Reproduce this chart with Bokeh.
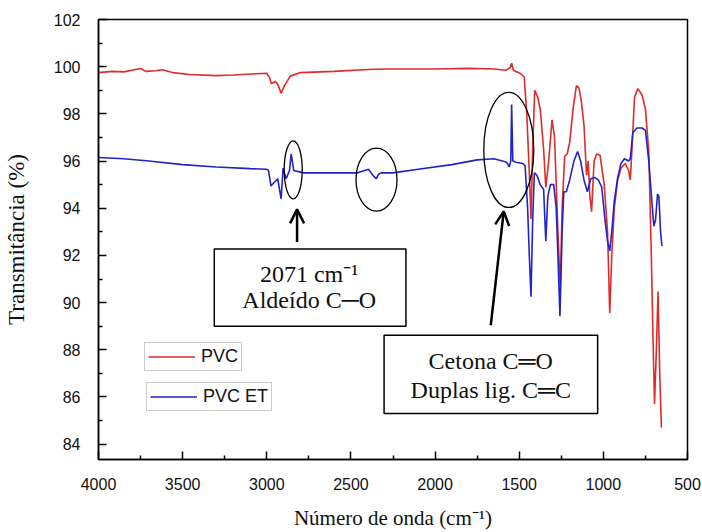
from bokeh.plotting import figure
from bokeh.models import (Range1d, Legend, LegendItem, Label, BoxAnnotation,
                          Arrow, OpenHead, FixedTicker, ColumnDataSource)
from bokeh.embed import file_html
from bokeh.resources import INLINE

# ---- data ----
wn_pvc = [4000, 3920, 3850, 3780, 3750, 3720, 3660, 3620, 3560, 3460, 3300, 3200,
          3060, 3000, 2985, 2972, 2950, 2935, 2915, 2895, 2860, 2800, 2600, 2400,
          2300, 2000, 1800, 1650, 1580, 1555, 1545, 1535, 1490, 1470, 1455, 1440,
          1430, 1420, 1408, 1390, 1375, 1355, 1342, 1325, 1305, 1290, 1270, 1256,
          1245, 1230, 1215, 1200, 1180, 1160, 1145, 1130, 1115, 1100, 1090, 1080,
          1070, 1055, 1040, 1020, 995, 975, 962, 950, 935, 915, 895, 870, 850, 840,
          830, 815, 795, 770, 750, 730, 715, 705, 696, 685, 675, 665, 655]
t_pvc = [99.75, 99.8, 99.78, 99.88, 99.92, 99.8, 99.83, 99.87, 99.75, 99.67, 99.62,
         99.65, 99.7, 99.72, 99.55, 99.28, 99.37, 99.25, 98.88, 99.2, 99.6, 99.75,
         99.8, 99.88, 99.9, 99.9, 99.93, 99.9, 99.85, 99.95, 100.15, 99.85, 99.7,
         99.55, 98.0, 95.5, 93.55, 96.5, 99.0, 98.7, 98.2, 96.5, 94.88, 96.0, 97.75,
         97.0, 93.0, 90.6, 94.0, 96.2, 96.3, 96.8, 98.2, 99.2, 99.1, 98.5, 97.5, 95.4,
         96.0, 94.5, 93.85, 96.0, 96.3, 96.25, 95.0, 93.0, 89.55, 92.0, 94.0, 95.2,
         95.7, 95.9, 95.6, 95.2, 96.5, 98.7, 99.07, 98.8, 98.2, 96.4, 92.0, 88.5,
         85.7, 88.0, 90.47, 87.0, 84.7]

wn_et = [4000, 3850, 3700, 3500, 3300, 3100, 3000, 2990, 2975, 2955, 2935, 2915, 2903,
         2885, 2865, 2855, 2840, 2780, 2600, 2460, 2395, 2380, 2370, 2350, 2335, 2320,
         2250, 2100, 1900, 1750, 1650, 1600, 1575, 1560, 1550, 1545, 1538, 1520, 1480,
         1465, 1450, 1440, 1430, 1420, 1410, 1395, 1375, 1355, 1342, 1330, 1315, 1295,
         1280, 1270, 1258, 1245, 1235, 1220, 1200, 1175, 1153, 1135, 1115, 1095, 1075,
         1050, 1030, 1010, 990, 975, 962, 950, 935, 915, 895, 875, 850, 840, 825, 800,
         770, 750, 730, 712, 700, 690, 678, 670, 660, 652]
t_et = [96.15, 96.1, 96.0, 95.85, 95.75, 95.68, 95.65, 95.6, 94.95, 95.1, 95.25, 94.4,
        95.7, 95.25, 95.6, 96.3, 95.6, 95.5, 95.5, 95.5, 95.65, 95.5, 95.4, 95.25,
        95.45, 95.5, 95.5, 95.65, 95.85, 96.05, 96.1, 96.0, 95.95, 95.75, 96.0, 98.4,
        96.0, 95.95, 95.9, 95.8, 94.0, 92.0, 90.25, 93.5, 95.5, 95.4, 95.0, 94.8, 92.6,
        94.5, 95.0, 95.0, 94.0, 92.0, 89.42, 93.0, 94.7, 94.7, 95.2, 96.0, 96.4, 96.0,
        95.2, 94.7, 95.25, 95.3, 95.2, 94.9, 93.5, 92.6, 92.19, 93.0, 94.3, 95.3, 95.9,
        96.1, 96.0, 96.1, 97.2, 97.4, 97.4, 97.3, 96.0, 94.3, 93.24, 93.5, 94.6, 94.5,
        93.0, 92.4]

x_ticks = [4000, 3500, 3000, 2500, 2000, 1500, 1000, 500]
x_minor = [3750, 3250, 2750, 2250, 1750, 1250, 750]
y_ticks = [84, 86, 88, 90, 92, 94, 96, 98, 100, 102]
y_minor = [85, 87, 89, 91, 93, 95, 97, 99, 101]

series_names = ["PVC", "PVC ET"]
note_a = ["2071 cm\u207b\u00b9", "Aldeído C\u2500O"]
note_b = ["Cetona C\u2550O", "Duplas lig. C\u2550C"]

RED = "#DE2B2B"
BLUE = "#2222C8"
SANS = "Liberation Sans"
SERIF = "Liberation Serif"

p = figure(width=702, height=532, output_backend="svg", toolbar_location=None,
           x_range=Range1d(4000, 500), y_range=Range1d(83.35, 102),
           min_border_left=97, min_border_right=15, min_border_top=19,
           min_border_bottom=69)
p.background_fill_color = "white"
p.border_fill_color = "white"
p.outline_line_color = "black"
p.outline_line_width = 1.5
p.xgrid.visible = False
p.ygrid.visible = False

for ax in (p.xaxis[0], p.yaxis[0]):
    ax.axis_line_width = 1.5
    ax.axis_line_color = "black"
    ax.major_tick_in = 8
    ax.major_tick_out = 0
    ax.minor_tick_in = 4
    ax.minor_tick_out = 0
    ax.major_tick_line_width = 1.5
    ax.minor_tick_line_width = 1.5
    ax.major_label_text_font = SANS
    ax.major_label_text_font_size = "16px"
    ax.major_label_text_color = "#111111"
    ax.axis_label_text_font = SERIF
    ax.axis_label_text_font_style = "normal"
    ax.axis_label_text_color = "#111111"

p.xaxis[0].ticker = FixedTicker(ticks=x_ticks, minor_ticks=x_minor)
p.yaxis[0].ticker = FixedTicker(ticks=y_ticks, minor_ticks=y_minor)
p.xaxis[0].axis_label = "Número de onda (cm\u207b\u00b9)"
p.yaxis[0].axis_label = "Transmitância (%)"
p.xaxis[0].axis_label_text_font_size = "21px"
p.yaxis[0].axis_label_text_font_size = "23px"
p.xaxis[0].major_label_standoff = 18
p.yaxis[0].major_label_standoff = 18
p.xaxis[0].axis_label_standoff = 13
p.yaxis[0].axis_label_standoff = 22

src_pvc = ColumnDataSource(dict(x=wn_pvc, y=t_pvc))
src_et = ColumnDataSource(dict(x=wn_et, y=t_et))
r_pvc = p.line("x", "y", source=src_pvc, line_color=RED, line_width=1.6)
r_et = p.line("x", "y", source=src_et, line_color=BLUE, line_width=1.6)

# ellipses around the marked regions
p.ellipse(x=[2843, 2348, 1562], y=[95.63, 95.21, 96.47],
          width=[18, 41, 50], height=[58, 63, 115],
          width_units="screen", height_units="screen",
          fill_alpha=0, line_color="black", line_width=1.3)

# annotation boxes
p.add_layout(BoxAnnotation(left=3312, right=2173, top=92.27, bottom=89.0,
                           fill_color="white", fill_alpha=1,
                           line_color="black", line_alpha=1, line_width=1.5))
p.add_layout(BoxAnnotation(left=2303, right=1034, top=88.62, bottom=85.30,
                           fill_color="white", fill_alpha=1,
                           line_color="black", line_alpha=1, line_width=1.5))
for txt, yy in zip(note_a, [91.22, 90.09]):
    p.add_layout(Label(x=2748, y=yy, text=txt, text_align="center",
                       text_baseline="middle", text_font=SERIF,
                       text_font_size="24px", text_color="#111111"))
for txt, yy in zip(note_b, [87.53, 86.31]):
    p.add_layout(Label(x=1669, y=yy, text=txt, text_align="center",
                       text_baseline="middle", text_font=SERIF,
                       text_font_size="24px", text_color="#111111"))

# arrows
p.add_layout(Arrow(end=OpenHead(size=14, line_width=2.5, line_color="black"),
                   x_start=2820, y_start=92.57, x_end=2820, y_end=93.95,
                   line_width=2.5, line_color="black"))
p.add_layout(Arrow(end=OpenHead(size=14, line_width=2.5, line_color="black"),
                   x_start=1669, y_start=89.04, x_end=1592, y_end=93.87,
                   line_width=2.5, line_color="black"))

# two separate legend boxes
for name, rend, loc in zip(series_names, [r_pvc, r_et], [(46, 88), (48, 48)]):
    leg = Legend(items=[LegendItem(label=name, renderers=[rend])], location=loc,
                 padding=3, margin=0, spacing=0, label_standoff=6,
                 glyph_width=47, glyph_height=19, label_height=19,
                 label_text_font=SANS, label_text_font_size="18px",
                 label_text_color="#111111",
                 border_line_color="#9a9a9a", border_line_width=1,
                 background_fill_color="white", background_fill_alpha=1)
    p.add_layout(leg)

open("out.html", "w").write(file_html(p, INLINE))
